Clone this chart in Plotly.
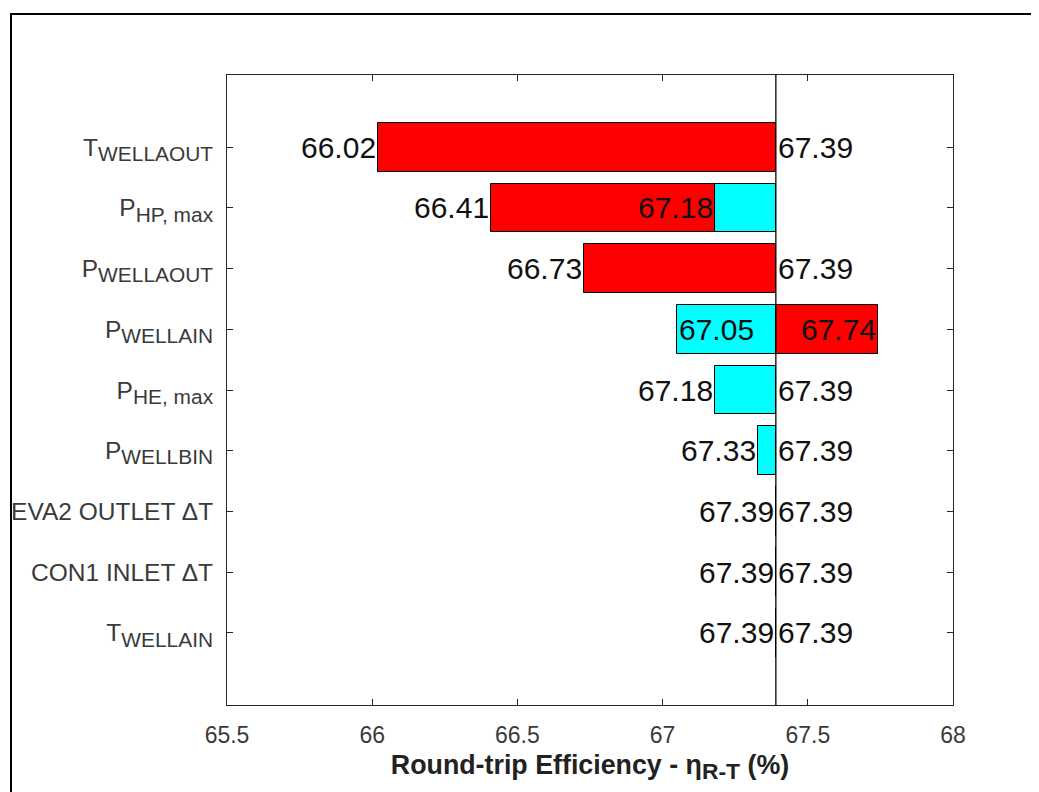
import plotly.graph_objects as go

# ---------------- data ----------------
SUB = '<sub><span style="font-size:122%">{}</span></sub>'
categories = ["T" + SUB.format("WELLAOUT"), "P" + SUB.format("HP, max"), "P" + SUB.format("WELLAOUT"),
              "P" + SUB.format("WELLAIN"), "P" + SUB.format("HE, max"), "P" + SUB.format("WELLBIN"),
              "EVA2 OUTLET ΔT", "CON1 INLET ΔT", "T" + SUB.format("WELLAIN")]
base_value = 67.39
red_values = [66.02, 66.41, 66.73, 67.74, 67.39, 67.39, 67.39, 67.39, 67.39]
cyan_values = [67.39, 67.18, 67.39, 67.05, 67.18, 67.33, 67.39, 67.39, 67.39]
# alignment of the value labels: "r" = text ends at value, "l" = text starts at value
red_label_align = ["r", "r", "r", "r", "l", "l", "l", "l", "l"]
cyan_label_align = ["l", "r", "l", "l", "r", "r", "r", "r", "r"]
x_ticks = [65.5, 66, 66.5, 67, 67.5, 68]

FONT = "Arial, Liberation Sans, sans-serif"
positions = list(range(1, len(categories) + 1))

fig = go.Figure()
fig.add_trace(go.Bar(
    y=positions, x=[v - base_value for v in red_values], base=base_value,
    orientation="h", width=0.8,
    marker=dict(color="#FF0000", line=dict(color="black", width=1)),
    showlegend=False, hoverinfo="skip"))
fig.add_trace(go.Bar(
    y=positions, x=[v - base_value for v in cyan_values], base=base_value,
    orientation="h", width=0.8,
    marker=dict(color="#00FFFF", line=dict(color="black", width=1)),
    showlegend=False, hoverinfo="skip"))

annotations = []
for i, pos in enumerate(positions):
    for val, al in ((red_values[i], red_label_align[i]), (cyan_values[i], cyan_label_align[i])):
        annotations.append(dict(
            x=val, y=pos, xref="x", yref="y", text=f"{val:.2f}", showarrow=False,
            xanchor="right" if al == "r" else "left", yanchor="middle",
            font=dict(family=FONT, size=30, color="#111111")))

# page is shown with an 8px body margin, so the layout is offset accordingly
L, R, T, B = 219, 94, 67, 95
PW, PH = 1039 - L - R, 792 - T - B

fig.update_layout(
    width=1039, height=792,
    margin=dict(l=L, r=R, t=T, b=B, autoexpand=False),
    paper_bgcolor="white", plot_bgcolor="white",
    barmode="overlay", bargap=0,
    font=dict(family=FONT, color="#262626"),
    annotations=annotations,
    xaxis=dict(
        range=[65.5, 68], tickvals=x_ticks, ticktext=[f"{t:g}" for t in x_ticks],
        ticks="inside", ticklen=6, tickcolor="#262626", showline=True,
        linecolor="#262626", linewidth=1, mirror="ticks", showgrid=False,
        zeroline=False, tickfont=dict(family=FONT, size=23, color="#3a3a3a"),
        ticklabelstandoff=9, automargin=False,
        title=dict(text='<b>Round-trip Efficiency - η<sub><span style="font-size:122%">R-T</span></sub> (%)</b>',
                   font=dict(family=FONT, size=26.8, color="#222222"), standoff=8)),
    yaxis=dict(
        range=[10.19, -0.19], tickvals=positions, ticktext=categories,
        ticks="inside", ticklen=6, tickcolor="#262626", showline=True,
        linecolor="#262626", linewidth=1, mirror="ticks", showgrid=False,
        zeroline=False, tickfont=dict(family=FONT, size=24.5, color="#3a3a3a"),
        ticklabelstandoff=8, automargin=False),
    shapes=[
        dict(type="line", xref="x", yref="paper", x0=base_value, x1=base_value,
             y0=0, y1=1, line=dict(color="black", width=1.3), layer="above"),
        dict(type="rect", xref="paper", yref="paper",
             x0=(3 - L) / PW, x1=(1045 - L) / PW,
             y0=-0.25, y1=1 + (T - 6) / PH,
             line=dict(color="black", width=2), fillcolor="rgba(0,0,0,0)",
             layer="above"),
    ],
)

fig.write_html("out.html")
